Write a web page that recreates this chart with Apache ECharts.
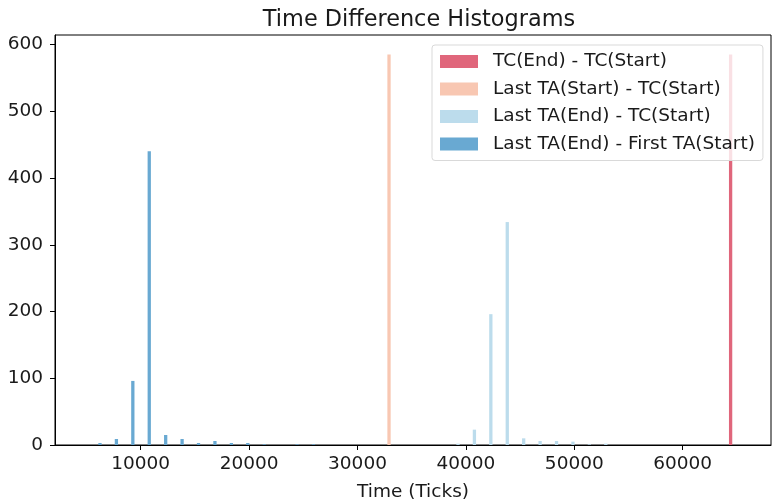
<!DOCTYPE html>
<html>
<head>
<meta charset="utf-8">
<script src="https://cdn.jsdelivr.net/npm/echarts@6/dist/echarts.min.js"></script>
<style>
html,body{margin:0;padding:0;background:#fff;}
#chart{width:774px;height:501px;}
</style>
</head>
<body>
<div id="chart"></div>
<script>
// Histogram bins (shared by all datasets)
const binStart = 5032;
const binWidth = 1515;
const binCount = 40;

const seriesNames = [
  'TC(End) - TC(Start)',
  'Last TA(Start) - TC(Start)',
  'Last TA(End) - TC(Start)',
  'Last TA(End) - First TA(Start)'
];
const seriesColors = ['#E0667B', '#F8C7B2', '#BCDCEC', '#69A9D2'];

// counts per bin (index 0..39)
const tcEndCounts = [0,0,0,0,0,0,0,0,0,0, 0,0,0,0,0,0,0,0,0,0, 0,0,0,0,0,0,0,0,0,0, 0,0,0,0,0,0,0,0,0,585];
const lastTAStartCounts = [0,0,0,0,0,0,0,0,0,0, 0,0,0,0,0,0,0,0,585,0, 0,0,0,0,0,0,0,0,0,0, 0,0,0,0,0,0,0,0,0,0];
const lastTAEndCounts = [0,0,0,0,0,0,0,0,0,0, 0,0,0,0,0,0,0,0,0,0, 0,0,2,23,196,334,10,6,6,5, 1,2,0,0,0,0,0,0,0,0];
const firstTACounts = [3,9,96,440,15,9,3,6,3,3, 1,0,1,1,0,0,0,0,0,0, 0,0,0,0,0,0,0,0,0,0, 0,0,0,0,0,0,0,0,0,0];

const allCounts = [tcEndCounts, lastTAStartCounts, lastTAEndCounts, firstTACounts];

const xTicks = [10000, 20000, 30000, 40000, 50000, 60000];
const yTicks = [0, 100, 200, 300, 400, 500, 600];

const font = 'DejaVu Sans';
const textColor = '#1a1a1a';

const series = allCounts.map((counts, s) => ({
  name: seriesNames[s],
  type: 'custom',
  itemStyle: { color: seriesColors[s] },
  data: counts.map((c, k) => [binStart + k * binWidth, c]),
  renderItem: function (params, api) {
    const left = api.value(0);
    const c = api.value(1);
    if (!c) return null;
    const x0 = left + (0.1 + 0.2 * s) * binWidth;
    const x1 = x0 + 0.2 * binWidth;
    const p0 = api.coord([x0, c]);
    const p1 = api.coord([x1, 0]);
    return {
      type: 'rect',
      shape: { x: p0[0], y: p0[1], width: p1[0] - p0[0], height: p1[1] - p0[1] },
      style: { fill: seriesColors[s] }
    };
  }
}));

const chart = echarts.init(document.getElementById('chart'), null, { renderer: 'canvas' });
chart.setOption({
  animation: false,
  backgroundColor: '#fff',
  title: {
    text: 'Time Difference Histograms',
    left: 414, top: 4, textAlign: 'center',
    textStyle: { fontFamily: font, fontSize: 22.4, fontWeight: 'normal', color: textColor }
  },
  legend: {
    orient: 'vertical',
    left: 432, top: 45,
    padding: [7, 8, 7, 8],
    itemGap: 8.5,
    itemWidth: 38, itemHeight: 13,
    icon: 'rect',
    backgroundColor: 'rgba(255,255,255,0.8)',
    borderColor: '#d9d9d9', borderWidth: 1, borderRadius: 3,
    data: seriesNames.map((n, i) => ({ name: n, itemStyle: { color: seriesColors[i] } })),
    textStyle: { fontFamily: font, fontSize: 18.5, color: textColor, padding: [0, 0, 0, 10] }
  },
  grid: {
    left: 55, right: 3, top: 35, bottom: 56,
    outerBoundsMode: 'none',
    containLabel: false,
    show: true, borderColor: '#000', borderWidth: 1, backgroundColor: 'transparent'
  },
  xAxis: {
    type: 'value',
    min: 2094, max: 68146,
    name: 'Time (Ticks)', nameLocation: 'middle', nameGap: 38,
    nameTextStyle: { fontFamily: font, fontSize: 18.5, color: textColor },
    axisLine: { show: true, lineStyle: { color: '#000', width: 1 } },
    axisTick: { show: true, customValues: xTicks, length: 5, lineStyle: { color: '#000' } },
    axisLabel: { customValues: xTicks, formatter: v => String(v), fontFamily: font, fontSize: 18.5, color: textColor, margin: 10 },
    splitLine: { show: false }
  },
  yAxis: {
    type: 'value',
    min: 0, max: 614.25,
    axisLine: { show: true, lineStyle: { color: '#000', width: 1 } },
    axisTick: { show: true, customValues: yTicks, length: 5, lineStyle: { color: '#000' } },
    axisLabel: { customValues: yTicks, formatter: v => String(v), fontFamily: font, fontSize: 18.5, color: textColor, margin: 12 },
    splitLine: { show: false }
  },
  series: series
});
</script>
</body>
</html>
